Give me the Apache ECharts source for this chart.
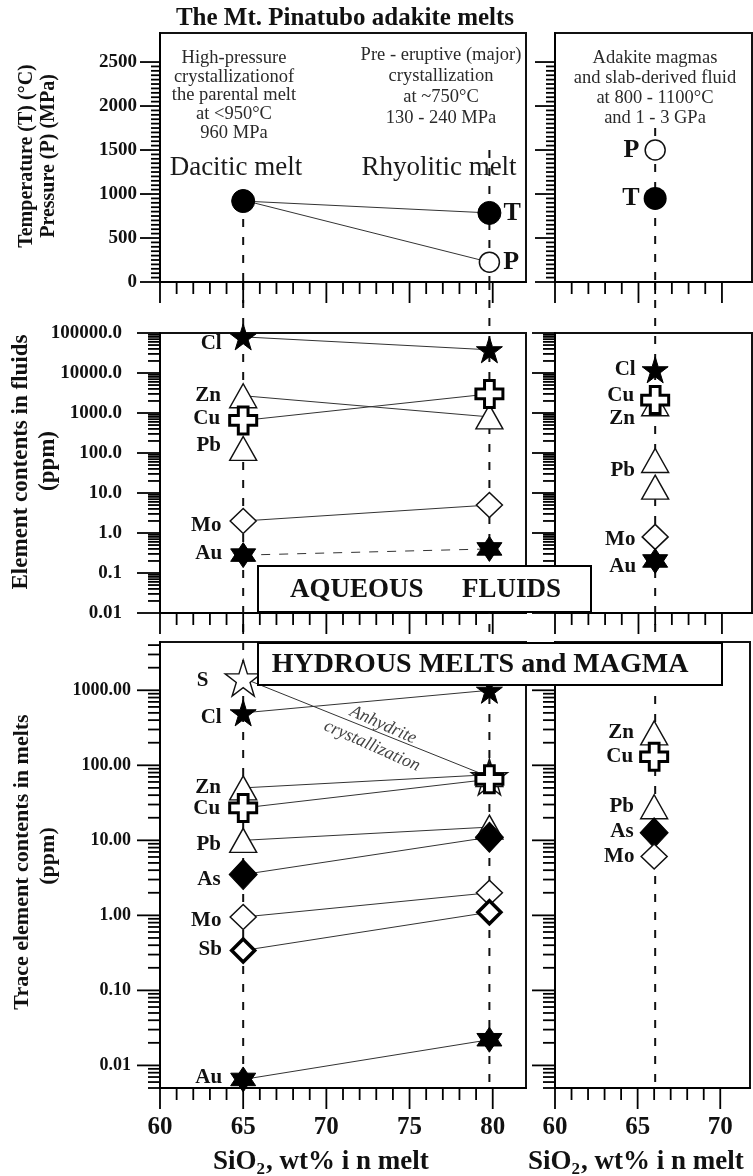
<!DOCTYPE html>
<html><head><meta charset="utf-8">
<script src="https://cdn.jsdelivr.net/npm/echarts@6/dist/echarts.min.js"></script>
<style>html,body{margin:0;padding:0;background:#fff}#c{width:753px;height:1176px}</style>
</head><body><div id="c"></div>
<script>
// ================= DATA =================
const meltSiO2 = [65, 79.8];          // Dacitic melt, Rhyolitic melt (wt% SiO2)
const adakiteSiO2 = 66;               // Adakite magmas
const temperatureMelt = [920, 785];   // °C
const pressureMelt = [930, 225];      // MPa
const temperatureAdakite = 950;       // °C
const pressureAdakite = 1500;         // MPa
const guideTop = [920, 1500, 1750];   // top of dashed guides in T/P panel

const fluidElements  = ['Cl', 'Zn', 'Cu', 'Pb', 'Mo', 'Au'];
const fluidDacitic   = [80000, 2700, 650, 130, 2.0, 0.28];
const fluidRhyolitic = [38000, 800, 3000, null, 5.0, 0.40];
const fluidAdakiteElements = ['Cl', 'Zn', 'Cu', 'Pb', 'Pb', 'Mo', 'Au'];
const fluidAdakite         = [12000, 1700, 2100, 65, 14, 0.8, 0.2];

const meltElements  = ['S', 'Cl', 'Zn', 'Cu', 'Pb', 'As', 'Mo', 'Sb', 'Au'];
const meltDacitic   = [1450, 500, 50, 27, 10, 3.5, 0.95, 0.34, 0.0065];
const meltRhyolitic = [70, 1000, 75, 65, 15, 11, 2.0, 1.1, 0.022];
const magmaAdakiteElements = ['Zn', 'Cu', 'Pb', 'As', 'Mo'];
const magmaAdakite         = [270, 130, 28, 12.6, 6.1];

const tpTickLabels = [0, 500, 1000, 1500, 2000, 2500];
const siO2TicksLeft = [60, 65, 70, 75, 80];
const siO2TicksRight = [60, 65, 70];

// ================= STYLE / LAYOUT =================
const FONT = '"Liberation Serif", "Times New Roman", serif';
const STAR = 'path://M50,0L61.2,34.5L97.6,34.5L68.2,55.9L79.4,90.5L50,69.1L20.6,90.5L31.8,55.9L2.4,34.5L38.8,34.5Z';
const HEX = 'path://M50,0L93.3,75L6.7,75Z M50,100L6.7,25L93.3,25Z';
const PLUS = 'path://M32,0L68,0L68,32L100,32L100,68L68,68L68,100L32,100L32,68L0,68L0,32L32,32Z';
const mk = {
  Cl: {symbol: STAR, size: 26, fill: '#000', stroke: '#000', bw: 1, z: 3},
  S:  {symbol: STAR, size: 36, fill: '#fff', stroke: '#111', bw: 1.4, z: 2},
  Zn: {symbol: 'triangle', size: [27, 24], fill: '#fff', stroke: '#111', bw: 1.4, z: 3},
  Pb: {symbol: 'triangle', size: [27, 24], fill: '#fff', stroke: '#111', bw: 1.4, z: 3},
  Cu: {symbol: PLUS, size: 27, fill: '#fff', stroke: '#000', bw: 3, z: 4},
  Mo: {symbol: 'diamond', size: [26, 25], fill: '#fff', stroke: '#111', bw: 1.5, z: 3},
  Sb: {symbol: 'diamond', size: [23, 23], fill: '#fff', stroke: '#000', bw: 3.5, z: 3},
  As: {symbol: 'diamond', size: [28, 30], fill: '#000', stroke: '#000', bw: 1, z: 3},
  Au: {symbol: HEX, size: 25, fill: '#000', stroke: '#000', bw: 1, z: 3}
};
const labOff = {
  ml: {Cl: [0, 7], Zn: [0, 0], Cu: [0, -2], Pb: [0, -3], Mo: [0, 5], Au: [0, -2]},
  bl: {S: [-8, 2], Cl: [0, 5], Zn: [0, 0], Cu: [0, 1], Pb: [0, 4], As: [0, 5], Mo: [0, 4], Sb: [0, -1], Au: [0, -2]},
  mr: [[0, 0], [0, 15], [0, -5], [0, 10], null, [0, 3], [0, 6]],
  br: [[0, 0], [0, 0], [0, 0], [0, -1], [0, 0]]
};

const grids = [
  {left: 160, top: 33, width: 366, height: 249},
  {left: 555, top: 33, width: 197, height: 249},
  {left: 160, top: 333, width: 366, height: 280},
  {left: 555, top: 333, width: 197, height: 280},
  {left: 160, top: 642, width: 366, height: 446},
  {left: 555, top: 642, width: 197, height: 446},
  {left: 160, top: 282, width: 366, height: 806},
  {left: 555, top: 282, width: 197, height: 806}
].map((g, i) => Object.assign({show: i < 6, borderColor: '#111', borderWidth: 2, backgroundColor: 'transparent'}, g));

const XMAX_L = 82, XMAX_R = 71.8;
const Y = [
  {type: 'value', min: 0, max: 2830},
  {type: 'value', min: 0, max: 2830},
  {type: 'log', min: 0.01, max: 100000},
  {type: 'log', min: 0.01, max: 100000},
  {type: 'log', min: 0.005, max: 4400},
  {type: 'log', min: 0.005, max: 4400},
  {type: 'value', min: 0, max: 1},
  {type: 'value', min: 0, max: 1}
];

function isDecade(v) { const l = Math.log10(v); return Math.abs(l - Math.round(l)) < 1e-6; }
const axLab = {fontFamily: FONT, fontWeight: 'bold', color: '#111'};

const xAxes = grids.map((g, i) => {
  const right = i % 2 === 1;
  const base = {type: 'value', gridIndex: i, min: 60, max: right ? XMAX_R : XMAX_L, interval: 5,
    splitLine: {show: false}, axisTick: {show: false}};
  if (i >= 6) return Object.assign(base, {show: false});
  return Object.assign(base, {
    axisLine: {show: true, onZero: false, lineStyle: {color: '#000', width: 2}},
    axisLabel: (i >= 4) ? Object.assign({show: true, margin: 27, fontSize: 25,
      formatter: v => ((right ? siO2TicksRight : siO2TicksLeft).indexOf(v) >= 0 ? String(v) : '')}, axLab) : {show: false}
  });
});

const yAxes = Y.map((y, i) => {
  const base = Object.assign({gridIndex: i, splitLine: {show: false}, axisTick: {show: false}}, y);
  if (y.type === 'log') base.logBase = 10;
  if (y.type === 'value' && i < 2) base.interval = 500;
  if (i >= 6) return Object.assign(base, {show: false});
  let label = {show: false};
  if (i === 0) label = Object.assign({show: true, margin: 23, fontSize: 19,
    formatter: v => (tpTickLabels.indexOf(v) >= 0 ? String(v) : '')}, axLab);
  if (i === 2) label = Object.assign({show: true, margin: 38, fontSize: 19,
    formatter: v => (isDecade(v) ? (v >= 0.1 ? v.toFixed(1) : v.toFixed(2)) : '')}, axLab);
  if (i === 4) label = Object.assign({show: true, margin: 29, fontSize: 18,
    formatter: v => (isDecade(v) ? v.toFixed(2) : '')}, axLab);
  return Object.assign(base, {
    axisLine: {show: true, onZero: false, lineStyle: {color: '#000', width: 2}},
    axisLabel: label
  });
});

// ---- tick marks (drawn through axis scales) ----
function ticksY(gi, list) {
  return {type: 'custom', xAxisIndex: gi, yAxisIndex: gi, clip: false, silent: true, z: 6,
    data: list.map(t => [60, t[0], t[1]]), encode: {x: 0, y: 1},
    renderItem: (params, api) => {
      const p = api.coord([api.value(0), api.value(1)]);
      const L = api.value(2);
      return {type: 'line', shape: {x1: p[0] - L, y1: p[1], x2: p[0], y2: p[1]}, style: {stroke: '#000', lineWidth: 1.8}};
    }};
}
function ticksX(gi, yMin, list) {
  return {type: 'custom', xAxisIndex: gi, yAxisIndex: gi, clip: false, silent: true, z: 6,
    data: list.map(t => [t[0], yMin, t[1]]), encode: {x: 0, y: 1},
    renderItem: (params, api) => {
      const p = api.coord([api.value(0), api.value(1)]);
      const L = api.value(2);
      return {type: 'line', shape: {x1: p[0], y1: p[1], x2: p[0], y2: p[1] + L}, style: {stroke: '#000', lineWidth: 1.8}};
    }};
}
function linTicks() {
  const out = [];
  for (let v = 0; v <= 2500; v += 50) out.push([v, v % 500 === 0 ? 20 : 9]);
  return out;
}
function logTicks(lo, hi, kMin, kMax) {
  const out = [];
  for (let k = kMin; k <= kMax; k++) {
    for (let m = 1; m <= 9; m++) {
      const v = Number((m * Math.pow(10, k)).toPrecision(6));
      if (v >= lo * 0.999 && v <= hi * 1.001) out.push([v, m === 1 ? 23 : 12]);
    }
  }
  return out;
}
function xTicks(maxV) {
  const out = [];
  for (let v = 60; v <= maxV; v++) out.push([v, v % 5 === 0 ? 21 : 12]);
  return out;
}

const series = [];
// tick series
series.push(ticksY(0, linTicks()), ticksY(1, linTicks()));
series.push(ticksY(2, logTicks(0.01, 100000, -2, 5)), ticksY(3, logTicks(0.01, 100000, -2, 5)));
series.push(ticksY(4, logTicks(0.005, 4400, -3, 3)), ticksY(5, logTicks(0.005, 4400, -3, 3)));
series.push(ticksX(0, 0, xTicks(80)), ticksX(1, 0, xTicks(70)));
series.push(ticksX(2, 0.01, xTicks(80)), ticksX(3, 0.01, xTicks(70)));
series.push(ticksX(4, 0.005, xTicks(80)), ticksX(5, 0.005, xTicks(70)));

// dashed vertical guides
function guide(gi, x, y0, y1) {
  return {type: 'line', xAxisIndex: gi, yAxisIndex: gi, data: [[x, y0], [x, y1]], symbol: 'none', silent: true,
    lineStyle: {color: '#111', width: 2, type: [8, 10]}, z: 1};
}
series.push(guide(0, meltSiO2[0], guideTop[0], 0), guide(0, meltSiO2[1], guideTop[1], 0), guide(1, adakiteSiO2, guideTop[2], 0));
series.push(guide(6, meltSiO2[0], 1, 0), guide(6, meltSiO2[1], 1, 0), guide(7, adakiteSiO2, 1, 0));

// T / P panel
const tpLabel = {show: true, fontFamily: FONT, fontWeight: 'bold', fontSize: 26, color: '#111'};
series.push({type: 'line', xAxisIndex: 0, yAxisIndex: 0, silent: true, z: 3,
  data: [[meltSiO2[0], pressureMelt[0]], {value: [meltSiO2[1], pressureMelt[1]], label: Object.assign({position: 'right', distance: 3, formatter: 'P'}, tpLabel)}],
  symbol: 'circle', symbolSize: 20, itemStyle: {color: '#fff', borderColor: '#111', borderWidth: 1.5},
  lineStyle: {color: '#333', width: 1}});
series.push({type: 'line', xAxisIndex: 0, yAxisIndex: 0, silent: true, z: 4,
  data: [[meltSiO2[0], temperatureMelt[0]], {value: [meltSiO2[1], temperatureMelt[1]], label: Object.assign({position: 'right', distance: 2, formatter: 'T'}, tpLabel)}],
  symbol: 'circle', symbolSize: 23, itemStyle: {color: '#000', borderColor: '#000', borderWidth: 1},
  lineStyle: {color: '#333', width: 1}});
series.push({type: 'scatter', xAxisIndex: 1, yAxisIndex: 1, silent: true, z: 3,
  data: [{value: [adakiteSiO2, pressureAdakite], label: Object.assign({position: 'left', distance: 5, formatter: 'P'}, tpLabel)}],
  symbol: 'circle', symbolSize: 20, itemStyle: {color: '#fff', borderColor: '#111', borderWidth: 1.5, opacity: 1}});
series.push({type: 'scatter', xAxisIndex: 1, yAxisIndex: 1, silent: true, z: 3,
  data: [{value: [adakiteSiO2, temperatureAdakite], label: Object.assign({position: 'left', distance: 4, formatter: 'T'}, tpLabel)}],
  symbol: 'circle', symbolSize: 23, itemStyle: {color: '#000', opacity: 1}});

const elLabel = {show: true, position: 'left', distance: 8, formatter: '{b}', fontFamily: FONT, fontWeight: 'bold', fontSize: 21, color: '#111'};

function pairSeries(gi, key, el, v0, v1) {
  const s = mk[el];
  const data = [{name: el, value: [meltSiO2[0], v0], label: Object.assign({}, elLabel, {offset: labOff[key][el] || [0, 0]})}];
  if (v1 !== null && v1 !== undefined) data.push({name: el, value: [meltSiO2[1], v1]});
  return {type: 'line', xAxisIndex: gi, yAxisIndex: gi, data, silent: true, z: s.z,
    symbol: s.symbol, symbolSize: s.size, symbolKeepAspect: false,
    itemStyle: {color: s.fill, borderColor: s.stroke, borderWidth: s.bw},
    lineStyle: {color: '#333', width: 1, type: el === 'Au' && gi === 2 ? [9, 9] : 'solid'},
    label: {show: false}};
}
function pointSeries(gi, el, x, v, off) {
  const s = mk[el];
  const lab = off ? Object.assign({}, elLabel, {offset: off, distance: 6}) : {show: false};
  return {type: 'scatter', xAxisIndex: gi, yAxisIndex: gi, silent: true, z: s.z,
    data: [{name: el, value: [x, v], label: lab}],
    symbol: s.symbol, symbolSize: s.size,
    itemStyle: {color: s.fill, borderColor: s.stroke, borderWidth: s.bw, opacity: 1}};
}

fluidElements.forEach((el, i) => series.push(pairSeries(2, 'ml', el, fluidDacitic[i], fluidRhyolitic[i])));
fluidAdakiteElements.forEach((el, i) => series.push(pointSeries(3, el, adakiteSiO2, fluidAdakite[i], labOff.mr[i])));
meltElements.forEach((el, i) => series.push(pairSeries(4, 'bl', el, meltDacitic[i], meltRhyolitic[i])));
magmaAdakiteElements.forEach((el, i) => series.push(pointSeries(5, el, adakiteSiO2, magmaAdakite[i], labOff.br[i])));

// ================= GRAPHIC TEXT / BOXES =================
const G = [];
const meas = document.createElement('canvas').getContext('2d');
function tw(text, font) { meas.font = font; return meas.measureText(text).width; }
function txt(x, y, text, font, o) {
  o = o || {};
  G.push({type: 'text', x, y, rotation: o.rot || 0, z: 101, silent: true,
    style: {text, font, fill: o.fill || '#111', textAlign: o.align || 'center', textVerticalAlign: 'middle',
      align: o.align || 'center', verticalAlign: 'middle'}});
}
function box(x, y, w, h) {
  G.push({type: 'rect', z: 100, silent: true, shape: {x, y, width: w, height: h}, style: {fill: '#fff', stroke: '#000', lineWidth: 2}});
}
const F = (w, s) => `${w} ${s}px ${FONT}`;

txt(345, 19, 'The Mt. Pinatubo adakite melts', F('bold', 25));

const blockL = ['High-pressure', 'crystallizationof', 'the parental melt', 'at <950°C', '960 MPa'];
const blockM = ['Pre - eruptive (major)', 'crystallization', 'at ~750°C', '130 - 240 MPa'];
const blockR = ['Adakite magmas', 'and slab-derived fluid', 'at 800 - 1100°C', 'and 1 - 3 GPa'];
blockL.forEach((t, i) => txt(234, 58 + i * 18.8, t, F('normal', 18.5), {fill: '#2a2a2a'}));
blockM.forEach((t, i) => txt(441, 55 + i * 21, t, F('normal', 18.5), {fill: '#2a2a2a'}));
blockR.forEach((t, i) => txt(655, 58 + i * 20, t, F('normal', 18.5), {fill: '#2a2a2a'}));
txt(236, 168, 'Dacitic melt', F('normal', 27), {fill: '#1a1a1a'});
txt(439, 168, 'Rhyolitic melt', F('normal', 27), {fill: '#1a1a1a'});

// axis titles
const R90 = Math.PI / 2;
txt(27, 156, 'Temperature (T) (°C)', F('bold', 20), {rot: R90});
txt(49, 156, 'Pressure (P) (MPa)', F('bold', 20), {rot: R90});
txt(21, 462, 'Element contents in fluids', F('bold', 23), {rot: R90});
txt(48, 461, '(ppm)', F('bold', 23), {rot: R90});
txt(22, 862, 'Trace element contents in melts', F('bold', 22), {rot: R90});
txt(48, 856, '(ppm)', F('bold', 22), {rot: R90});

function siTitle(x0) {
  const f1 = F('bold', 27), f2 = F('bold', 17);
  txt(x0, 1162, 'SiO', f1, {align: 'left'});
  const w1 = tw('SiO', f1);
  txt(x0 + w1, 1170, '2', f2, {align: 'left'});
  const w2 = tw('2', f2);
  txt(x0 + w1 + w2 + 1, 1162, ', wt% i n melt', f1, {align: 'left'});
}
siTitle(213);
siTitle(528);

// annotation
const rotA = -24 * Math.PI / 180;
txt(383, 725, 'Anhydrite', F('italic', 18), {rot: rotA, fill: '#444'});
txt(372, 746, 'crystallization', F('italic', 18), {rot: rotA, fill: '#444'});

// boxes
box(258, 566, 333, 46);
txt(290, 590, 'AQUEOUS', F('bold', 27), {align: 'left'});
txt(462, 590, 'FLUIDS', F('bold', 27), {align: 'left'});
box(258, 643, 464, 42);
txt(480, 665, 'HYDROUS MELTS and MAGMA', F('bold', 28));

const chart = echarts.init(document.getElementById('c'), null, {renderer: 'canvas'});
chart.setOption({
  backgroundColor: '#fff',
  animation: false,
  grid: grids,
  xAxis: xAxes,
  yAxis: yAxes,
  series,
  graphic: {elements: G}
});
</script></body></html>
